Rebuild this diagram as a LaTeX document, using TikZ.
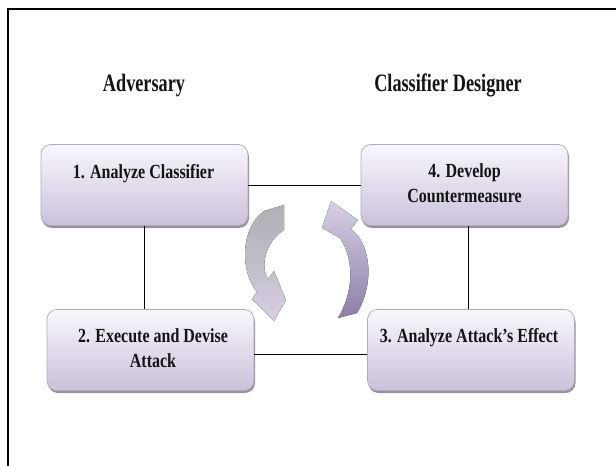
\documentclass[tikz,border=0pt]{standalone}
\usepackage{fontspec}
\setmainfont[FakeStretch=0.8]{Liberation Serif}
\newfontfamily\headfont[FakeStretch=0.73]{Liberation Serif}
\usetikzlibrary{calc}

\definecolor{boxtop}{RGB}{249,247,252}
\definecolor{boxbot}{RGB}{203,193,219}
\definecolor{boxedge}{RGB}{176,170,186}
\definecolor{boxshadow}{RGB}{150,146,158}
\definecolor{greyarrow}{RGB}{176,176,180}
\definecolor{lilacpale}{RGB}{216,208,230}
\definecolor{lilacdeep}{RGB}{140,126,166}
\definecolor{ink}{RGB}{20,20,20}

\tikzset{
  stagebox/.style={rounded corners=10pt, minimum height=81pt, minimum width=207pt,
    inner sep=0pt, draw=boxedge, line width=0.7pt, top color=boxtop, bottom color=boxbot},
  stageshadow/.style={rounded corners=10pt, minimum height=81pt, minimum width=207pt,
    inner sep=0pt, fill=boxshadow},
  stagetext/.style={font=\fontsize{20}{25}\selectfont\bfseries, text=ink, align=center, inner sep=0pt},
  roletext/.style={font=\headfont\fontsize{25}{28}\selectfont\bfseries, text=ink, inner sep=0pt},
  link/.style={draw=black, line width=0.9pt},
}

\begin{document}
\begin{tikzpicture}[x=1pt,y=-1pt]
\useasboundingbox (0,0) rectangle (616,466);
\fill[white] (0,0) rectangle (616,466);

% outer frame (left and top edges)
\draw[line width=2.6pt] (8,466) -- (8,9) -- (616,9);

% role headings
\node[roletext, anchor=base] (hadv) at (144,91) {Adversary};
\node[roletext, anchor=base] (hdes) at (448,91) {Classifier Designer};

% drop shadows under the stage boxes
\node[stageshadow] (s1) at (145.5,187.5) {};
\node[stageshadow] (s4) at (465.5,187.5) {};
\node[stageshadow] (s2) at (151.5,352.5) {};
\node[stageshadow] (s3) at (472,352.5) {};

% stage boxes
\node[stagebox] (b1) at (144.5,185) {};
\node[stagebox] (b4) at (464.5,185) {};
\node[stagebox] (b2) at (150.5,350) {};
\node[stagebox] (b3) at (471,350) {};

% stage labels
\node[stagetext, anchor=base] (t1) at (143.5,178) {1. Analyze Classifier};
\node[stagetext, anchor=base] (t4a) at (464.5,177) {4. Develop};
\node[stagetext, anchor=base] (t4b) at (464.5,202) {Countermeasure};
\node[stagetext, anchor=base] (t2a) at (153,342) {2. Execute and Devise};
\node[stagetext, anchor=base] (t2b) at (153,367) {Attack};
\node[stagetext, anchor=base] (t3) at (469,342) {3. Analyze Attack’s Effect};

% connectors between the stages
\draw[link] (b1.east) -- (b4.west);
\draw[link] ([xshift=-0.5pt]b1.south) -- ([xshift=-0.5pt]b1.south |- b2.north);
\draw[link] ([xshift=3.5pt]b4.south) -- ([xshift=3.5pt]b4.south |- b3.north);
\draw[link] ($(b2.east)+(0,4)$) -- ($(b3.west)+(0,4)$);

% circular arrows in the middle
\fill[top color=greyarrow, bottom color=lilacpale, middle color=greyarrow!60!lilacpale]
  (264,211) -- (284,205) -- (284,230)
  .. controls (270,238) and (258,262) .. (268,279)
  -- (274,271) -- (286,300) -- (274,321) -- (252,299) -- (257,292)
  .. controls (240,272) and (240,228) .. (264,211) -- cycle;
\fill[top color=lilacpale, bottom color=lilacdeep]
  (331,201) -- (358,220) -- (351,229)
  .. controls (372,245) and (374,285) .. (357,313)
  -- (338,318)
  .. controls (352,295) and (356,262) .. (340,238)
  -- (322,228) -- cycle;
\end{tikzpicture}
\end{document}
